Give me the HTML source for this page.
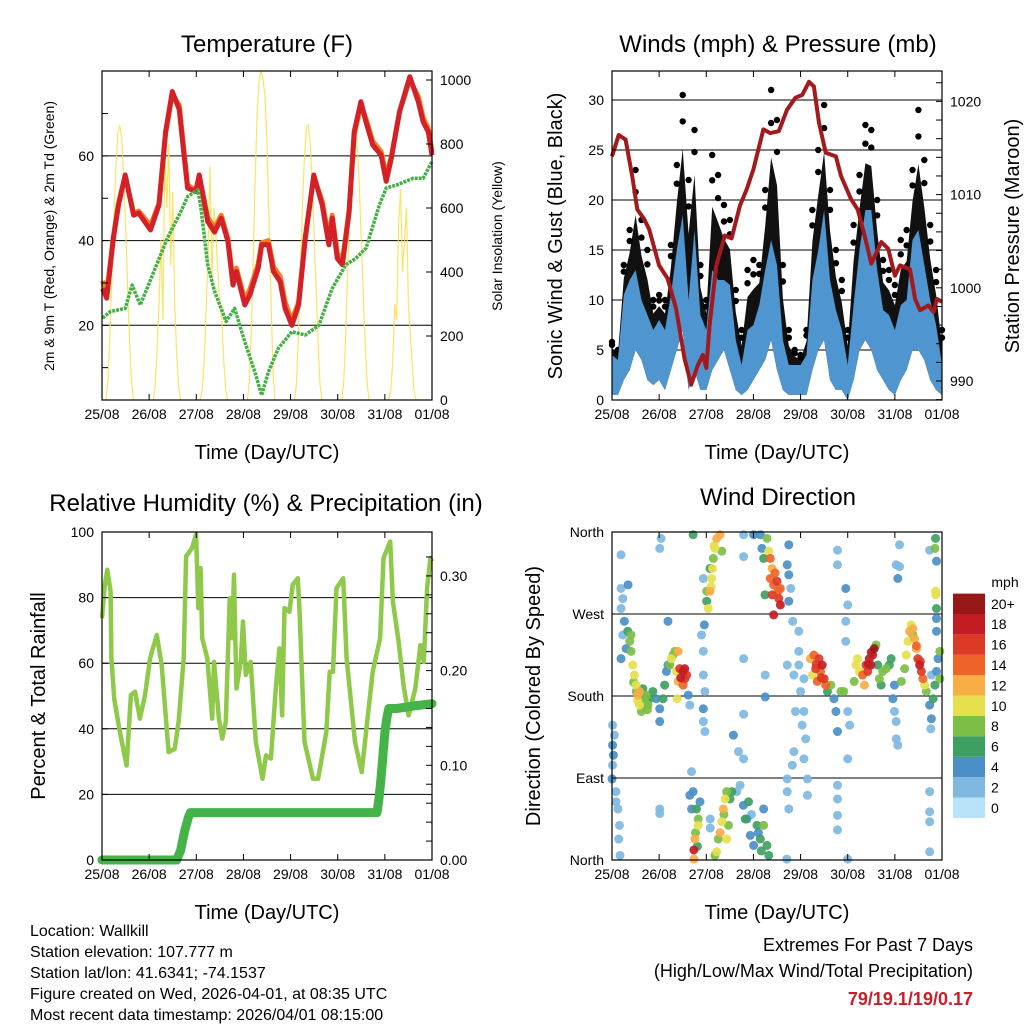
<!DOCTYPE html>
<html><head><meta charset="utf-8">
<style>
html,body{margin:0;padding:0;background:#fff;}
svg{display:block;font-family:"Liberation Sans",sans-serif;}
</style></head>
<body>
<svg id="c" width="1024" height="1024" viewBox="0 0 1024 1024" xmlns="http://www.w3.org/2000/svg">
<g id="layer"></g>
<g font-size="16" fill="#000">
<text x="30" y="936">Location: Wallkill</text>
<text x="30" y="957">Station elevation: 107.777 m</text>
<text x="30" y="978">Station lat/lon: 41.6341; -74.1537</text>
<text x="30" y="999">Figure created on Wed, 2026-04-01, at 08:35 UTC</text>
<text x="30" y="1020">Most recent data timestamp: 2026/04/01 08:15:00</text>
</g>
<g text-anchor="end">
<text x="973" y="951" font-size="18">Extremes For Past 7 Days</text>
<text x="973" y="977" font-size="18">(High/Low/Max Wind/Total Precipitation)</text>
<text x="973" y="1005" font-size="18" font-weight="bold" fill="#c8202a">79/19.1/19/0.17</text>
</g>
</svg>
<script>
// ---------- DATA ----------
const dayLabels = ["25/08","26/08","27/08","28/08","29/08","30/08","31/08","01/08"];
const tempHours = [0.3,2.4,5.8,8.4,11.8,16.1,18.7,24.7,29,32.4,35.8,39.3,41.8,43.6,47.8,49.5,53.8,57.3,60.7,64.1,66.7,68.4,72.7,75.3,79.5,81.3,84.7,87.3,90.7,93.2,96.7,100.1,103.5,107.8,112.1,115.5,117.2,119.8,122.4,125.8,128.4,131.8,134.4,137.8,142.1,144.7,147.3,151.5,156.7,161,163.5,166.1,168];
const temp2m = [28.7,26.4,40.6,48.4,55.5,46,46.5,42.5,48.4,65.7,75.2,71,60,52.4,51.6,55.5,44.5,42,45.3,39.8,29.5,32.7,24.8,27.2,33.5,39,39,32.7,30.3,24,20,24.8,40.6,55.5,48.4,39,45.3,35.8,34.3,46.8,65.7,72.8,68,62.6,60.2,54,59.4,70.5,78.7,72.8,68,65.7,60.2];
const temp9m = [30.5,27.5,41,48.8,55.3,46.5,47,43.5,48.8,65.3,74.5,72,61,53,52,55.3,45.5,43,46,40.5,30.5,33.5,26,28.5,34.5,39.5,40,33.8,31.5,25.5,21,25.5,41,55,49.3,40.5,46,37,35.3,47,65,72,68.8,63.5,61,55.3,59.8,70.5,78,74,69,66.5,61];
const dewHours = [0.3,4.1,11.8,15.3,19.5,26.4,33.3,40.1,43.6,48.8,50.4,53.8,57.3,63.2,67.5,72.7,77.8,81.3,84.7,89.8,96.7,103.5,110.4,117.2,124.1,129.2,134.4,141.2,144.7,149.8,158.4,163.5,168];
const dewVals = [21.7,23.2,24,29.5,24.8,32.7,40.6,46.8,50.4,52,47.6,34.3,28,20.9,24,16.1,9,3.5,9,14.6,18.5,17.7,20,28.7,34.3,35.8,38.2,48.4,52.4,53.1,54.7,54.7,58.7];
const solarDay0 = [0,60,200,380,560,720,830,860,820,700,540,360,190,60,0];
const solarDay1 = [0,40,150,300,500,250,780,600,800,420,650,300,150,40,0];
const solarDay2 = [0,30,120,280,450,730,380,600,520,400,300,250,120,30,0];
const solarDay3 = [0,60,220,450,700,900,1000,1050,1000,950,800,560,330,100,0];
const solarDay4 = [0,50,200,400,600,750,850,860,800,680,520,350,180,50,0];
const solarDay5 = [0,50,190,390,580,740,840,850,790,670,500,330,170,50,0];
const solarDay6 = [0,30,120,300,250,550,660,400,500,600,300,200,100,20,0];
const solarDays = [solarDay0,solarDay1,solarDay2,solarDay3,solarDay4,solarDay5,solarDay6];

const windLo = [0.5,0.5,2,3,5,4,2,1.5,2,1,3,5,7,1,3,1,1,3,4,5,3,1,0.5,1,2,3,4,6,3,1,0.5,0.5,0.5,0.5,3,5,6,2,1,1,0,2,5,6,5,3,2,1,0.5,2,3,5,5,4,2,1,0.5];
const windHi = [4.5,4,10.5,12,13,10,8.5,7,8,7,10.5,15,18.5,10,17,8.5,7,13,12,12,11.5,6,3.5,7,7.5,9.5,13,16,13.5,6,3.5,3.5,3.5,4.5,12,15,19,12,9,7,3.5,9.5,15,19,19,13,9,8.5,7,9.5,10,16,17,13.5,10,7.5,3.5];
const gustHi = [5.8,5,13.5,17,23,18,15,10,10.5,10,15.5,23.5,30.5,22,27,13.5,10,24.5,22.5,19.5,18,11,7,13,14,13.5,21,31,28,13.5,7,5,4.5,7,19,25,29.5,21,15,12,7,17.5,22.5,27.5,27,20,14,13,11.5,16,17,23,29,24,17.5,13,7];
const presHours = [0,3.4,6.9,10.3,12.9,16.3,18.9,24,28.3,32.6,36.9,40.3,43.7,46.3,48,49.7,53.1,57.4,60.9,65.1,68.6,72,77.1,80.6,84.9,89.1,93.4,96.9,100.3,102.8,105.4,108.8,114,116.6,121.7,125.1,128.6,132,137.1,140.6,144,146.6,151.7,154.3,156.8,161.1,163.7,165.4,168];
const presVals = [1014.1,1016.4,1015.9,1012,1008.4,1007.4,1006.3,1002.4,1001,997.8,992.4,989.6,991.7,992.8,991.4,996,1002.4,1005.6,1005.3,1008.8,1010.6,1012.7,1017,1016.6,1016.8,1019.1,1020.4,1020.7,1022.1,1021.6,1017.7,1014.5,1014.1,1012,1009.5,1008.4,1005.6,1002.6,1004.9,1004.2,1001.3,1002.4,1002,998.8,997.6,998.1,997.4,998.8,998.5];

const rhHours = [0,1.4,2.7,4.4,4.8,6.2,9.1,12.5,14.7,16.8,19.3,21.9,24.5,27.9,30.4,33.9,37,39,41.6,42.8,45.8,47.9,49,50.2,51,53.6,56.1,57,59.5,61.2,63,65,66.3,67.2,68.4,70.6,71.8,73.2,75.7,78.3,81.7,83.5,86,88.6,90.3,91.7,92.9,95.4,97.1,99.7,100.5,103.1,107.4,110,114.2,115.9,117.6,119.4,122.8,124.5,128.8,132.2,134.8,137.8,141.6,143.3,146.7,148.1,151,153.5,156.1,159.5,162.1,163.8,165.5,167.2,168];
const rhVals = [73.7,83.9,88.5,81.9,61.5,49.2,39,28.8,50.3,51.3,43.1,50.3,61.5,68.6,59.4,32.9,33.9,42.1,61.5,92.6,95.1,99.2,76.8,89,67.6,61.5,43.1,60.4,43.1,37,42.1,79.8,67.6,87,52.3,60.4,72.7,56.4,60.4,36,24.8,31.9,30.9,53.3,64.5,44.1,76.8,75.7,83.9,85.9,76.8,36,24.8,24.8,39,57.4,57.4,82.9,85.9,61.5,36,26.8,41.1,57.4,67.6,92,97.1,78.8,66.6,53.3,44.1,52.3,65.5,60.4,82.9,92,91];
const rainHours = [0,38,40,42,44,45,140,141,142,143,144,145,146,150,160,168];
const rainVals = [0,0,0.01,0.03,0.045,0.05,0.05,0.065,0.085,0.11,0.135,0.15,0.16,0.16,0.163,0.165];

// wind direction observations, grouped by episode: hours, degrees, speed (mph)
const hA=[0.3,1.2,0.7,0.3,0,2,3,3.8,3.4,4.1,2,0.3];
const dA=[148,137,115,104,89,75,56,38,23,5,64,126];
const sA=[2,2,3,2,4,2,2,2,1,1,2,3];
const hB=[4.6,5.5,4.6,6.3,5.5,7.2,4.6,8.2];
const dB=[298,287,276,262,247,232,221,302];
const sB=[2,1,2,3,2,4,3,4];
const hC=[8,9,9.7,10.6,11.4,12.3,13.2,14,14.9,15.7,16.6,17.4,18.3,19.1,9.7,12.3,14,15.7,17.4,11,13,16,18];
const dC=[251,240,229,214,203,192,181,170,163,188,174,181,170,177,247,185,185,170,170,195,175,180,165];
const sC=[6,8,8,10,10,10,12,10,8,6,8,8,8,6,8,8,12,8,8,8,10,6,8];
const hD=[20.8,22.5,24.3,24.3,26,26.8,27.7,28.5,28.5];
const dD=[185,177,166,152,177,192,207,214,262];
const sD=[6,4,4,4,6,6,4,4,4];
const hE=[29.4,30.2,31.1,32,33.7,32.8,33.7,34.5,36.2,37.1,38,36.2,33.2,38.8,39.6,35,37];
const dE=[214,221,225,229,229,207,196,210,207,199,203,192,177,181,170,200,210];
const sE=[8,10,8,8,12,10,12,16,18,16,16,14,10,4,2,18,18];
const hF=[41.3,43,43.9,42.2,41.7,41.7,43.9,44.8,42.5,43.5];
const dF=[75,56,38,23,11,1,45,64,30,15];
const sF=[4,6,10,12,18,12,8,4,8,6];
const hG=[45.6,46.5,46.5,47.3,46.5,46.5,47.3,40.5,47];
const dG=[247,229,203,185,166,152,141,97,258];
const sG=[1,2,2,2,4,2,2,2,4];
const hH=[49,48.2,49.9,50.7,51.2,51.6,49.9,52.4,53.3,55,55.9,48.2,46.5,50.5,52];
const dH=[276,295,295,309,320,331,320,342,353,357,339,284,309,300,345];
const sH=[10,8,12,10,10,8,6,10,12,12,8,6,2,10,10];
const hI=[53.3,54.1,55.9,56.7,57.6,58.4,60.1,59.3,58.4,61,52.4,55,57];
const dI=[9,23,42,56,67,75,67,38,23,75,5,30,50];
const sI=[10,8,10,12,10,8,6,8,10,6,8,12,8];
const hJ=[63.5,65.2,66.9,68.7,70.4,72.1,73.8,75.5,77.2,78.9,79.8,77.2,69.5,67.8,61.8,64.4,71,74.5,76];
const dJ=[75,82,60,45,27,16,38,23,56,16,5,38,64,45,137,119,50,30,10];
const sJ=[2,2,4,4,4,4,6,6,4,6,6,8,6,6,4,2,2,4,6];
const hK=[75.5,76.3,77.2,78.9,79.8,80.6,81.5,80.6,82.3,84,85.7,84.9,85.7,82.3,81.5,77.9,89.2,90,91,90,90,72.1,67,92,83,84.5];
const dK=[357,342,331,353,339,331,320,309,302,306,298,287,280,269,291,291,324,313,298,284,346,357,357,262,315,295];
const sK=[4,4,6,8,10,14,12,14,14,16,14,16,18,18,16,6,4,4,2,4,4,4,1,1,14,14];
const hL=[89.2,92.6,95.1,96,97.7,96.8,98.6,97.7,92.6,91.8,89.2,89.2,90,93.4,99.5,95.1,95.1,97.7];
const dL=[214,203,214,185,163,148,133,111,119,104,89,75,56,163,89,251,229,199];
const sL=[2,1,2,2,1,2,1,1,2,2,2,2,2,1,1,2,2,1];
const hM=[101,102.8,103.7,105.4,106.2,107,108,108.8,104.5,102,109.7,111.4,113,114,116.5,118,120,121,114.8,119,120,119,119,104,106.5];
const dM=[221,225,210,221,207,214,199,192,196,203,185,192,177,163,185,185,163,148,141,298,280,262,240,215,200];
const sM=[12,14,16,16,14,18,16,14,14,10,6,8,4,4,8,8,2,2,4,4,1,2,2,16,16];
const hO=[123.3,124.2,125,126,127.6,128.5,129.3,131,131.8,132.7,133.5,130.2,134.4,130.5,132];
const dO=[196,214,221,207,203,192,214,221,214,225,232,207,236,215,228];
const sO=[8,10,10,10,14,12,16,18,18,18,20,16,8,18,18];
const hP=[135.3,136.1,137.8,139.6,141.2,142.1,137];
const dP=[214,199,207,210,214,221,192];
const sP=[6,8,8,8,6,6,6];
const hQ=[143,143.8,144.7,144.7,145.5,143.8,144.7,145.5,146.4,147.3];
const dQ=[177,163,152,133,126,192,324,309,346,196];
const sQ=[4,1,2,2,2,4,2,4,1,8];
const hR=[149,149.8,150.7,151.5,153.2,154,154.9,155.7,156.6,157.5,158.3,159.2,160,153.2,152.3,155,157];
const dR=[210,225,240,251,254,243,232,221,214,207,199,192,185,247,258,235,218];
const sR=[8,10,10,12,12,12,12,16,18,16,14,10,8,8,10,14,16];
const hS=[161.7,162.6,162.3,161.7,161.7,161.7,161.7,163.5,164.4,165.2,166,166.9,165.2,165.2,165.2,164.8,164.8,165.2,164.4,164.7,161.7,162.6,166.9];
const dS=[170,155,144,75,53,42,9,177,192,207,221,229,251,265,276,291,295,328,342,353,340,203,199];
const sS=[4,4,2,2,2,2,2,6,6,4,4,8,4,4,6,10,10,4,8,6,2,2,8];
const hX=[4.6,24.3,25,41.3,67,67,67,78,78,114.8,114.8,120,114.8,114.8,114.8,114.8,146.4,67,99.5,24.3,24.3,39.6,40.5,50,50,89,120];
const dX=[335,342,353,357,333,221,160,203,179,340,324,111,82,67,49,33,322,111,71,56,51,71,56,45,35,1,1];
const sX=[1,1,1,6,2,1,1,1,4,1,1,1,2,2,1,1,1,2,2,1,1,4,4,2,2,2,1];
const dirHours = [].concat(hA,hB,hC,hD,hE,hF,hG,hH,hI,hJ,hK,hL,hM,hO,hP,hQ,hR,hS,hX);
const dirDeg = [].concat(dA,dB,dC,dD,dE,dF,dG,dH,dI,dJ,dK,dL,dM,dO,dP,dQ,dR,dS,dX);
const dirSpeed = [].concat(sA,sB,sC,sD,sE,sF,sG,sH,sI,sJ,sK,sL,sM,sO,sP,sQ,sR,sS,sX);
const speedColors = ["#b8e3f8","#7fb9e2","#4a8fc6","#3f9f62","#7bbf45","#e6e04c","#f8ad45","#ee6428","#dc3a26","#c31d23","#981818"];
const speedLabels = ["0","2","4","6","8","10","12","14","16","18","20+"];

// ---------- HELPERS ----------
const NS="http://www.w3.org/2000/svg";
const root=document.getElementById('layer');
function mk(tag,attrs,parent){const e=document.createElementNS(NS,tag);for(const k in attrs)e.setAttribute(k,attrs[k]);(parent||root).appendChild(e);return e;}
function txt(x,y,s,size,parent,anchor,rot){const e=mk('text',{x:x,y:y,'font-size':size,'text-anchor':anchor||'middle'},parent);if(rot)e.setAttribute('transform','rotate(-90 '+x+' '+y+')');e.textContent=s;return e;}
function panel(L,T,R,B){const W=R-L;return {L,T,R,B,x:h=>L+h/168*W};}
function lineFrom(xs,ys,fx,fy){return xs.map((v,i)=>fx(v).toFixed(1)+','+fy(ys[i]).toFixed(1)).join(' ');}
function frame(p,g){
  const r=mk('rect',{x:p.L,y:p.T,width:p.R-p.L,height:p.B-p.T,fill:'none',stroke:'#000','stroke-width':1.2},g);
  
  
  for(let d=0;d<8;d++){const x=p.x(d*24);
    mk('line',{x1:x,y1:p.B,x2:x,y2:p.B-6,stroke:'#000','stroke-width':1},g);
    mk('line',{x1:x,y1:p.T,x2:x,y2:p.T+6,stroke:'#000','stroke-width':1},g);
    const t=txt(x,p.B+19,dayLabels[d],14,g);
    
    
  }
  const xt=txt((p.L+p.R)/2,p.B+59,'Time (Day/UTC)',20,g);
  
  
}
function gridY(p,g,vals,fy,labels,side){
  vals.forEach((v,i)=>{const y=fy(v);
    const x=side==='right'?p.R:p.L;
    mk('line',{x1:x,y1:y,x2:side==='right'?x-6:x+6,y2:y,stroke:'#000','stroke-width':1},g);
    if(labels){const t=txt(side==='right'?p.R+8:p.L-8,y+5,labels[i],14,g,side==='right'?'start':'end');
      
      }
  });
}

// ---------- PANEL 1: TEMPERATURE ----------
(function(){
  const g=mk('g',{});
  
  
  const p=panel(102,71,432,400);
  const fy=v=>325.3-(v-20)*4.235, fs=v=>400-v*0.32;
  [20,40,60].forEach(v=>mk('line',{x1:p.L,y1:fy(v),x2:p.R,y2:fy(v),stroke:'#000','stroke-width':1},g));
  solarDays.forEach((arr,d)=>{
    const hrs=arr.map((_,i)=>d*24+2+i);
    const pl=mk('polyline',{points:lineFrom(hrs,arr,p.x,v=>Math.max(71,fs(v))),fill:'none',stroke:'#f9df4a','stroke-width':1.2,opacity:0.85},g);
    
    
  });
  const o=mk('polyline',{points:lineFrom(tempHours,temp9m,p.x,fy),fill:'none',stroke:'#f07c24','stroke-width':5,'stroke-linejoin':'round'},g);
  
  
  const r=mk('polyline',{points:lineFrom(tempHours,temp2m,p.x,fy),fill:'none',stroke:'#d42027','stroke-width':5,'stroke-linejoin':'round'},g);
  
  
  const d=mk('polyline',{points:lineFrom(dewHours,dewVals,p.x,fy),fill:'none',stroke:'#44b044','stroke-width':3.5,'stroke-dasharray':'3 1','stroke-linejoin':'round'},g);
  
  
  frame(p,g);
  gridY(p,g,[20,40,60],fy,['20','40','60'],'left');
  gridY(p,g,[10,30,50,70],fy,null,'left');
  gridY(p,g,[0,200,400,600,800,1000],fs,['0','200','400','600','800','1000'],'right');
  const t=txt(267,52,'Temperature (F)',24,g);  
  const yl=txt(54,236,'2m & 9m T (Red, Orange) & 2m Td (Green)',14,g,'middle',true);  
  const yr=txt(502,236,'Solar Insolation (Yellow)',14,g,'middle',true);  
})();

// ---------- PANEL 2: WINDS & PRESSURE ----------
(function(){
  const g=mk('g',{});
  
  
  const p=panel(612,71,942,400);
  const fy=v=>400-v*10, fp=v=>381-(v-990)*9.32;
  [5,10,15,20,25,30].forEach(v=>mk('line',{x1:p.L,y1:fy(v),x2:p.R,y2:fy(v),stroke:'#000','stroke-width':1},g));
  const hrs=windHi.map((_,i)=>i*3);
  const blk=mk('polygon',{points:lineFrom(hrs,gustHi.map((v,i)=>windHi[i]+(v-windHi[i])*0.55),p.x,fy)+' '+lineFrom(hrs.slice().reverse(),windLo.slice().reverse(),p.x,fy),fill:'#111'},g);
  
  
  gustHi.forEach((v,i)=>{
    [v,windHi[i]+(v-windHi[i])*0.78].forEach(val=>{
      const c=mk('circle',{cx:p.x(i*3),cy:fy(val),r:3.2,fill:'#000'},g);
      
      
    });
  });
  const bl=mk('polygon',{points:lineFrom(hrs,windHi,p.x,fy)+' '+lineFrom(hrs.slice().reverse(),windLo.slice().reverse(),p.x,fy),fill:'#4f95d0'},g);
  
  
  const pr=mk('polyline',{points:lineFrom(presHours,presVals,p.x,fp),fill:'none',stroke:'#a3191c','stroke-width':4,'stroke-linejoin':'round'},g);
  
  
  frame(p,g);
  gridY(p,g,[0,5,10,15,20,25,30],fy,['0','5','10','15','20','25','30'],'left');
  gridY(p,g,[990,1000,1010,1020],fp,['990','1000','1010','1020'],'right');
  gridY(p,g,[988,992,994,996,998,1002,1004,1006,1008,1012,1014,1016,1018,1022],fp,null,'right');
  const t=txt(778,52,'Winds (mph) & Pressure (mb)',24,g);  
  const yl=txt(562,236,'Sonic Wind & Gust (Blue, Black)',20,g,'middle',true);  
  const yr=txt(1019,236,'Station Pressure (Maroon)',20,g,'middle',true);  
})();

// ---------- PANEL 3: RH & PRECIP ----------
(function(){
  const g=mk('g',{});
  
  
  const p=panel(102,532,432,860);
  const fy=v=>860-v*3.28, fr=v=>860-v*947;
  [20,40,60,80].forEach(v=>mk('line',{x1:p.L,y1:fy(v),x2:p.R,y2:fy(v),stroke:'#000','stroke-width':1},g));
  const rh=mk('polyline',{points:lineFrom(rhHours,rhVals,p.x,fy),fill:'none',stroke:'#8fc94a','stroke-width':4.5,'stroke-linejoin':'round'},g);
  
  
  const rn=mk('polyline',{points:lineFrom(rainHours,rainVals,p.x,fr),fill:'none',stroke:'#44b348','stroke-width':9,'stroke-linecap':'round','stroke-linejoin':'round'},g);
  
  
  frame(p,g);
  gridY(p,g,[0,20,40,60,80,100],fy,['0','20','40','60','80','100'],'left');
  gridY(p,g,[0,0.1,0.2,0.3],fr,['0.00','0.10','0.20','0.30'],'right');
  gridY(p,g,[0.02,0.04,0.06,0.08,0.12,0.14,0.16,0.18,0.22,0.24,0.26,0.28,0.32],fr,null,'right');
  const t=txt(266,511,'Relative Humidity (%) & Precipitation (in)',24,g);  
  const yl=txt(45,696,'Percent & Total Rainfall',20,g,'middle',true);  
})();

// ---------- PANEL 4: WIND DIRECTION ----------
(function(){
  const g=mk('g',{});
  
  
  const p=panel(612,532,942,860);
  const fy=v=>860-v*328/360;
  [90,180,270].forEach(v=>mk('line',{x1:p.L,y1:fy(v),x2:p.R,y2:fy(v),stroke:'#000','stroke-width':1},g));
  const order=dirSpeed.map((_,i)=>i).sort((a,b)=>dirSpeed[a]-dirSpeed[b]);
  order.forEach(i=>{
    const ci=Math.min(10,Math.round(dirSpeed[i]/2));
    const c=mk('circle',{cx:p.x(dirHours[i]),cy:fy(dirDeg[i]),r:4.5,fill:speedColors[ci],opacity:0.92},g);
    
    
  });
  frame(p,g);
  gridY(p,g,[0,90,180,270,360],fy,['North','East','South','West','North'],'left');
  const t=txt(778,505,'Wind Direction',24,g);  
  const yl=txt(540,696,'Direction (Colored By Speed)',20,g,'middle',true);  
  const lg=mk('g',{},g);
  
  
  const bh=20.4;
  speedColors.forEach((col,i)=>{
    const y=818-(i+1)*bh;
    const r=mk('rect',{x:953,y:y,width:32,height:bh,fill:col},lg);
    
    
    const l=txt(991,y+bh/2+5,speedLabels[i],14,lg,'start');
    
    
  });
  const u=txt(1005,587,'mph',14,lg);  
})();
</script>
</body></html>
